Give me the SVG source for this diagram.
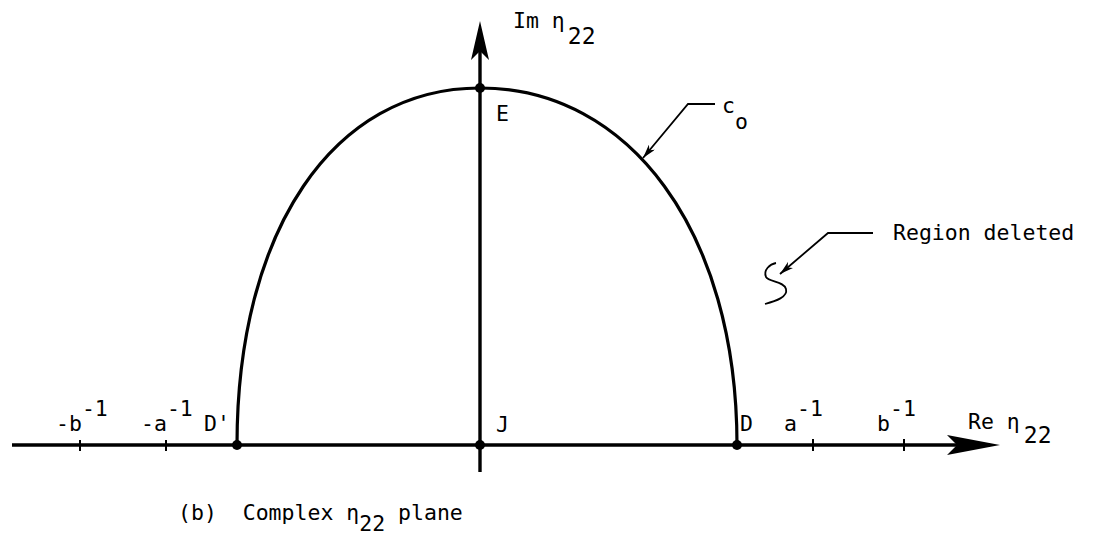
<svg xmlns="http://www.w3.org/2000/svg" width="1116" height="539" viewBox="0 0 1116 539">
<style>
text{font-family:"DejaVu Sans Mono","Liberation Mono",monospace;font-size:21.5px;fill:#000}
.ax{stroke:#000;stroke-width:3.4;fill:none}
.cv{stroke:#000;stroke-width:3.2;fill:none}
.ld{stroke:#000;stroke-width:1.8;fill:none}
.tk{stroke:#000;stroke-width:2}
.sb{font-size:23px}
</style>
<defs>
<marker id="ah" viewBox="0 0 14 8" refX="14" refY="4" markerWidth="14" markerHeight="8" markerUnits="userSpaceOnUse" orient="auto">
<path d="M0,0 L14,4 L0,8 L4,4 Z" fill="#000"/>
</marker>
</defs>
<rect width="1116" height="539" fill="#fff"/>
<g id="connectors">
<line class="ax" x1="12" y1="445" x2="990" y2="445"/>
<path d="M1000,445 L947,435 L957,445 L947,455 Z" fill="#000"/>
<line class="ax" x1="480" y1="472" x2="480" y2="30"/>
<path d="M480,21 L489,60 L480,51 L471,60 Z" fill="#000"/>
<line class="tk" x1="80" y1="440" x2="80" y2="451"/>
<line class="tk" x1="166" y1="440" x2="166" y2="451"/>
<line class="tk" x1="813" y1="439" x2="813" y2="451"/>
<line class="tk" x1="904" y1="439" x2="904" y2="451"/>
<path class="cv" d="M237,445 C237,231 333,88 480,88 C629,88 737,231 737,445"/>
<path class="ld" d="M715,104 L688,104 L643,158" marker-end="url(#ah)"/>
<path class="ld" d="M873,233 L828,233 L780,274" marker-end="url(#ah)"/>
<path class="ld" d="M776,263 C770,264 763,270 766,277 C769,282 784,281 786,289 C788,297 776,301 765,304"/>
</g>
<g id="node-E"><circle cx="480" cy="88" r="5"/><text x="496" y="121">E</text></g>
<g id="node-J"><circle cx="480" cy="445" r="5"/><text x="496" y="432">J</text></g>
<g id="node-D"><circle cx="737" cy="445" r="5"/><text x="740" y="431">D</text></g>
<g id="node-Dp"><circle cx="237" cy="445" r="5"/><text x="204" y="431">D'</text></g>
<g id="labels">
<text x="513" y="28">Im η<tspan class="sb" dx="3" dy="16">22</tspan></text>
<text x="56" y="431">-b<tspan dy="-15">-1</tspan></text>
<text x="141" y="431">-a<tspan dy="-15">-1</tspan></text>
<text x="784" y="431">a<tspan dy="-15">-1</tspan></text>
<text x="877" y="431">b<tspan dy="-15">-1</tspan></text>
<text x="968" y="429">Re η<tspan class="sb" dx="4" dy="14">22</tspan></text>
<text x="722" y="113">c<tspan dy="16">o</tspan></text>
<text x="893" y="240">Region deleted</text>
<text x="178" y="520">(b)&#160; Complex η<tspan dy="11">22</tspan><tspan dy="-11"> plane</tspan></text>
</g>
</svg>
